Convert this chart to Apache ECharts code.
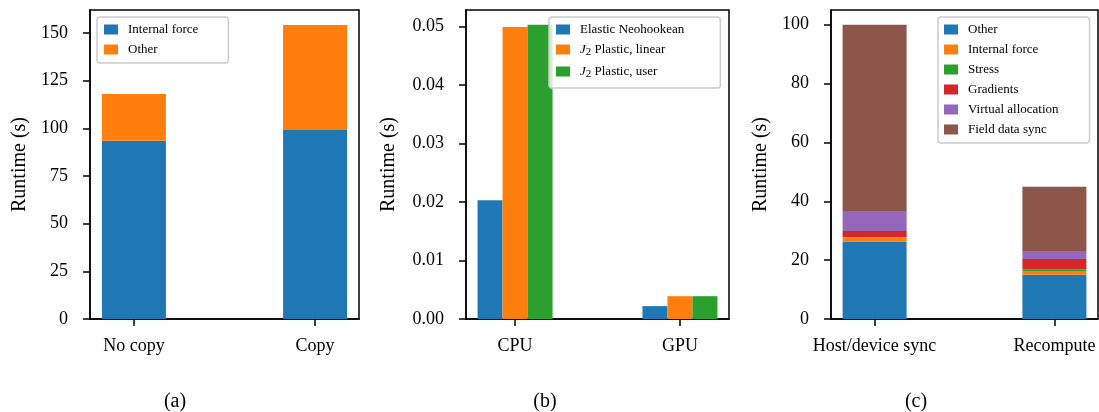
<!DOCTYPE html>
<html><head><meta charset="utf-8">
<script src="https://cdn.jsdelivr.net/npm/echarts@6/dist/echarts.min.js"></script>
<style>html,body{margin:0;padding:0;background:#fff}#c{width:1099px;height:412px}</style>
</head><body><div id="c"></div>
<script>
// ---- Panel (a) ----
const aCategories = ['No copy', 'Copy'];
const aInternalForce = [93.4, 99.1];
const aOther = [24.6, 55.1];
const aTicks = [0, 25, 50, 75, 100, 125, 150];

// ---- Panel (b) ----
const bCategories = ['CPU', 'GPU'];
const bElasticNeohookean = [0.0203, 0.0022];
const bJ2Linear = [0.0499, 0.0039];
const bJ2User = [0.0503, 0.0039];
const bTicks = [0, 0.01, 0.02, 0.03, 0.04, 0.05];

// ---- Panel (c) ----
const cCategories = ['Host/device sync', 'Recompute'];
const cOther = [26.3, 15.0];
const cInternalForce = [1.4, 1.3];
const cStress = [0.2, 0.5];
const cGradients = [2.0, 3.6];
const cVirtualAllocation = [6.8, 2.7];
const cFieldDataSync = [63.3, 21.8];
const cTicks = [0, 20, 40, 60, 80, 100];

const FONT = "'Liberation Serif', 'DejaVu Serif', serif";
const C = ['#1f77b4', '#ff7f0e', '#2ca02c', '#d62728', '#9467bd', '#8c564b'];

// value first, position second (encode maps them), so stacking acts on the value
const pairs = arr => arr.map((v, i) => [v, i]);
const ENC = { x: 1, y: 0 };

const grids = [
  { left: 90, top: 10, width: 269, height: 309 },
  { left: 466, top: 10, width: 263, height: 309 },
  { left: 831, top: 10, width: 267, height: 309 }
].map(g => Object.assign(g, { show: true, borderColor: '#000', borderWidth: 1.5, containLabel: false }));

function xAx(i, cats, min, max) {
  const pos = cats.map((_, k) => k);
  return {
    gridIndex: i, type: 'value', min: min, max: max,
    axisLine: { show: true, onZero: false, lineStyle: { color: '#000', width: 1.5 } },
    axisTick: { show: true, customValues: pos, length: 7, lineStyle: { color: '#000', width: 1.5 } },
    axisLabel: { customValues: pos, formatter: v => cats[Math.round(v)], fontSize: 18, color: '#000', fontFamily: FONT, margin: 18 },
    splitLine: { show: false }
  };
}
function yAx(i, ticks, max, fmt, gap) {
  return {
    gridIndex: i, type: 'value', min: 0, max: max,
    name: 'Runtime (s)', nameLocation: 'middle', nameGap: gap,
    nameTextStyle: { fontSize: 20, color: '#000', fontFamily: FONT },
    axisLine: { show: true, onZero: false, lineStyle: { color: '#000', width: 1.5 } },
    axisTick: { show: true, customValues: ticks, length: 7, lineStyle: { color: '#000', width: 1.5 } },
    axisLabel: { customValues: ticks, formatter: fmt, fontSize: 18, color: '#000', fontFamily: FONT, margin: 22 },
    splitLine: { show: false }
  };
}

const legendBase = {
  orient: 'vertical', icon: 'rect', itemWidth: 14, itemHeight: 10, itemGap: 7,
  borderColor: '#cccccc', borderWidth: 1.5, borderRadius: 3, backgroundColor: 'rgba(255,255,255,0.8)',
  selectedMode: false,
  textStyle: { fontSize: 13, color: '#000', fontFamily: FONT, padding: [0, 0, 0, 5] }
};

function bar(name, stack, idx, width, color, values, extra) {
  return Object.assign({
    name: name, type: 'bar', stack: stack || undefined, xAxisIndex: idx, yAxisIndex: idx,
    barWidth: width, itemStyle: { color: color }, encode: ENC, data: pairs(values), animation: false
  }, extra || {});
}

const series = [
  bar('Internal force', 'a', 0, 64, C[0], aInternalForce),
  bar('Other', 'a', 0, 64, C[1], aOther),

  bar('Elastic Neohookean', null, 1, 25, C[0], bElasticNeohookean, { barGap: '0%' }),
  bar('J2 Plastic, linear', null, 1, 25, C[1], bJ2Linear, { barGap: '0%' }),
  bar('J2 Plastic, user', null, 1, 25, C[2], bJ2User, { barGap: '0%' }),

  bar('c-Other', 'c', 2, 64, C[0], cOther),
  bar('c-Internal force', 'c', 2, 64, C[1], cInternalForce),
  bar('c-Stress', 'c', 2, 64, C[2], cStress),
  bar('c-Gradients', 'c', 2, 64, C[3], cGradients),
  bar('c-Virtual allocation', 'c', 2, 64, C[4], cVirtualAllocation),
  bar('c-Field data sync', 'c', 2, 64, C[5], cFieldDataSync)
];

const option = {
  animation: false,
  grid: grids,
  xAxis: [
    xAx(0, aCategories, -0.2425, 1.2425),
    xAx(1, bCategories, -0.2975, 1.2975),
    xAx(2, cCategories, -0.2425, 1.2425)
  ],
  yAxis: [
    yAx(0, aTicks, 162, v => String(v), 60),
    yAx(1, bTicks, 0.0528, v => v.toFixed(2), 67),
    yAx(2, cTicks, 105, v => String(v), 60)
  ],
  legend: [
    Object.assign({}, legendBase, { data: ['Internal force', 'Other'], left: 97, top: 17, padding: [6, 30, 7, 7] }),
    Object.assign({}, legendBase, {
      data: ['Elastic Neohookean', 'J2 Plastic, linear', 'J2 Plastic, user'], left: 549, top: 17, padding: [6, 36, 8, 7],
      formatter: n => n.startsWith('J2') ? '{i|J}{s|2}' + n.slice(2) : n,
      textStyle: Object.assign({}, legendBase.textStyle, {
        rich: {
          i: { fontStyle: 'italic', fontSize: 13, fontFamily: FONT, color: '#000' },
          s: { fontSize: 11, fontFamily: FONT, color: '#000', padding: [6, 0, 0, 0] }
        }
      })
    }),
    Object.assign({}, legendBase, {
      data: ['c-Other', 'c-Internal force', 'c-Stress', 'c-Gradients', 'c-Virtual allocation', 'c-Field data sync'],
      left: 938, top: 17, padding: [6, 31, 7, 6],
      formatter: n => n.slice(2)
    })
  ],
  graphic: [
    { type: 'text', x: 175, y: 402, style: { text: '(a)', fontSize: 20, fontFamily: FONT, fill: '#000', align: 'center', verticalAlign: 'middle' } },
    { type: 'text', x: 545, y: 402, style: { text: '(b)', fontSize: 20, fontFamily: FONT, fill: '#000', align: 'center', verticalAlign: 'middle' } },
    { type: 'text', x: 916, y: 402, style: { text: '(c)', fontSize: 20, fontFamily: FONT, fill: '#000', align: 'center', verticalAlign: 'middle' } }
  ],
  series: series
};

const chart = echarts.init(document.getElementById('c'), null, { renderer: 'canvas' });
chart.setOption(option);
</script>
</body></html>
